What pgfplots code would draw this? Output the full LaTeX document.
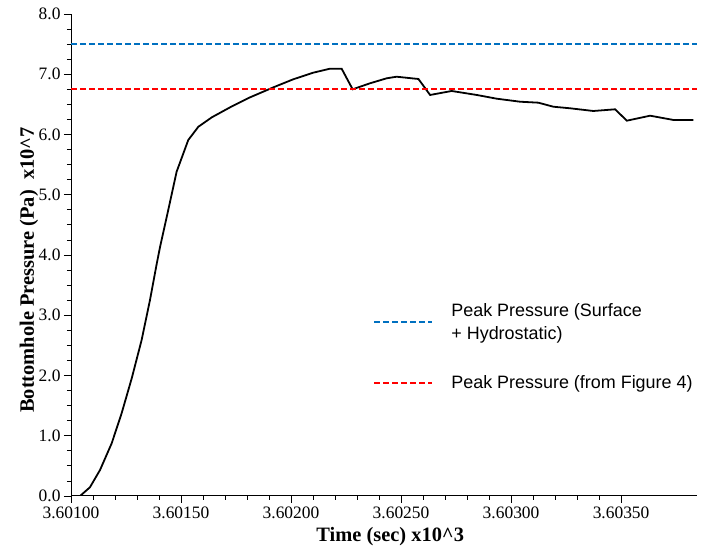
\documentclass[border=0pt]{standalone}
\usepackage{fontspec}
\setmainfont{Liberation Serif}
\newfontfamily\legfont{Liberation Sans}
\usepackage{pgfplots}
\pgfplotsset{compat=1.18}
\definecolor{pblue}{RGB}{0,112,192}
\definecolor{pred}{RGB}{255,0,0}
\begin{document}
\begin{tikzpicture}
\begin{axis}[
  scale only axis, width=626bp, height=482bp,
  xmin=0, xmax=2.845, ymin=0, ymax=8,
  axis lines=left, axis line style={-, line width=1pt},
  tick align=outside,
  tick style={line width=0.8pt, black},
  xtick={0,0.5,1,1.5,2,2.5},
  xticklabels={3.60100,3.60150,3.60200,3.60250,3.60300,3.60350},
  minor x tick num=4,
  ytick={0,1,2,3,4,5,6,7,8}, minor y tick num=3,
  yticklabel style={/pgf/number format/.cd, fixed, fixed zerofill, precision=1},
  /pgf/number format/assume math mode=true,
  tick label style={font=\fontsize{17.5}{17.5}\selectfont},
  major tick length=7bp, minor tick length=4bp,
  xlabel={\textbf{Time (sec) x10\textasciicircum 3}},
  ylabel={\textbf{Bottomhole Pressure (Pa)\ \ x10\textasciicircum 7}},
  label style={font=\fontsize{20.5}{20.5}\selectfont},
  xlabel style={at={(axis description cs:0.51,-0.0954)}, anchor=base},
  ylabel style={at={(axis description cs:-0.067,0.469)}, anchor=center},
  legend style={draw=none, fill=none, at={(rel axis cs:0.478,0.409)}, anchor=north west,
    font=\legfont\fontsize{18}{24}\selectfont, row sep=30bp, column sep=16bp,
    nodes={align=left, inner sep=2bp}},
  legend cell align=left,
  legend image code/.code={\draw[#1] (0bp,0bp) -- (58bp,0bp);},
]
\addplot[black, line width=1.8pt, forget plot] coordinates {
(0.041,0) (0.086,0.144) (0.132,0.432) (0.185,0.875) (0.230,1.372) (0.276,1.953)
(0.321,2.589) (0.359,3.253) (0.390,3.862) (0.405,4.138) (0.442,4.747) (0.480,5.382)
(0.533,5.909) (0.579,6.129) (0.640,6.285) (0.723,6.451) (0.814,6.617) (0.920,6.783)
(1.010,6.916) (1.101,7.026) (1.177,7.092) (1.230,7.092) (1.280,6.750) (1.359,6.850)
(1.435,6.933) (1.480,6.959) (1.579,6.921) (1.632,6.656) (1.730,6.722) (1.844,6.656)
(1.935,6.594) (2.041,6.544) (2.124,6.528) (2.192,6.461) (2.268,6.435) (2.374,6.390)
(2.473,6.418) (2.526,6.229) (2.632,6.312) (2.738,6.241) (2.829,6.241)
};
\addplot[pblue, line width=2pt, dash pattern=on 6bp off 3bp] coordinates {(0,7.5) (2.845,7.5)};
\addlegendentry{Peak Pressure (Surface\\+ Hydrostatic)}
\addplot[pred, line width=2pt, dash pattern=on 6bp off 3bp] coordinates {(0,6.76) (2.845,6.76)};
\addlegendentry{Peak Pressure (from Figure 4)}
\end{axis}
\pgfresetboundingbox
\path ([shift={(-71bp,-50bp)}]current axis.south west) rectangle ([shift={(10bp,14bp)}]current axis.north east);
\end{tikzpicture}
\end{document}
